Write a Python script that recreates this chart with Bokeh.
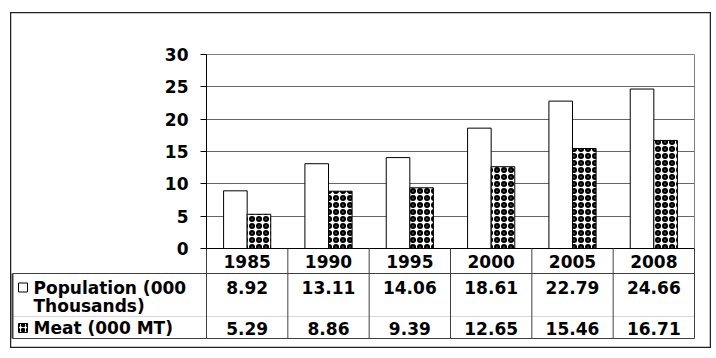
from bokeh.plotting import figure
from bokeh.models import Range1d, FixedTicker, ColumnDataSource
from bokeh.transform import dodge
from bokeh.embed import file_html
from bokeh.resources import INLINE
from bokeh.core.properties import value

# ---- data ----
years = ["1985", "1990", "1995", "2000", "2005", "2008"]
population = [8.92, 13.11, 14.06, 18.61, 22.79, 24.66]
meat = [5.29, 8.86, 9.39, 12.65, 15.46, 16.71]
y_ticks = [0, 5, 10, 15, 20, 25, 30]
pop_label_lines = ["Population (000", "Thousands)"]
meat_label = "Meat (000 MT)"

# ---- layout constants (page px) ----
FONT = "DejaVu Sans"
FS = "17px"
LEFT, TOP = 10, 12            # outer chart box
W, H = 701, 336
RIGHT, BOTTOM = LEFT + W, TOP + H
PL, PR, PT, PB = 206, 694, 54, 248   # plot area
N = len(years)
UNIT = (PR - PL) / N          # px per category

def px2x(px):
    return (px - PL) / UNIT

centers = [i + 0.5 for i in range(N)]
bounds = list(range(N + 1))
pos = {"position": "absolute", "left": f"{LEFT}px", "top": f"{TOP}px"}

# ---- chart ----
src = ColumnDataSource(dict(x=centers, pop=population, meat=meat))
p = figure(width=W, height=H, x_range=Range1d(0, N), y_range=Range1d(0, 30),
           output_backend="svg", toolbar_location=None, x_axis_location=None,
           min_border_left=PL - LEFT, min_border_right=RIGHT - PR,
           min_border_top=PT - TOP, min_border_bottom=BOTTOM - PB)
p.styles = dict(pos)
p.outline_line_color = "#808080"
p.xgrid.visible = False
p.ygrid.ticker = FixedTicker(ticks=y_ticks)
p.ygrid.grid_line_color = "#666666"

ax = p.yaxis[0]
ax.ticker = FixedTicker(ticks=y_ticks)
ax.major_label_text_font = FONT
ax.major_label_text_font_style = "bold"
ax.major_label_text_font_size = FS
ax.major_label_text_color = "black"
ax.major_tick_out = 6
ax.major_tick_in = 0
ax.minor_tick_out = 0
ax.minor_tick_in = 0
ax.major_label_standoff = 12
ax.axis_line_color = "black"
ax.major_tick_line_color = "black"

bw = 0.29
p.vbar(x=dodge("x", -bw / 2, range=p.x_range), top="pop", width=bw, source=src,
       fill_color="white", line_color="black", line_width=1)
p.vbar(x=dodge("x", bw / 2, range=p.x_range), top="meat", width=bw, source=src,
       fill_color="white", line_color="black", line_width=1,
       hatch_pattern="ring", hatch_color="black", hatch_scale=7, hatch_weight=2.5)

# ---- data table overlay (transparent, same box) ----
t = figure(width=W, height=H, x_range=Range1d(px2x(LEFT), px2x(RIGHT)),
           y_range=Range1d(BOTTOM, TOP),
           output_backend="svg", toolbar_location=None, x_axis_location=None,
           y_axis_location=None, min_border=0)
t.styles = dict(pos)
t.background_fill_color = None
t.border_fill_color = None
t.outline_line_color = "#222222"
t.outline_line_width = 1.5
t.xgrid.visible = False
t.ygrid.visible = False

HDR, ROW1, ROW2 = 273, 316, 338
tl = px2x(12)
line_col = "#404040"
t.segment(x0=[0], y0=[PB], x1=[N], y1=[PB], line_color="black", line_width=1)
t.segment(x0=[tl, tl], y0=[HDR, ROW2], x1=[N, N], y1=[HDR, ROW2], line_color=line_col, line_width=1)
t.segment(x0=[tl], y0=[ROW1], x1=[N], y1=[ROW1], line_color="#d8d8d8", line_width=1)
t.segment(x0=bounds, y0=[PB] * (N + 1), x1=bounds, y1=[ROW2] * (N + 1),
          line_color=line_col, line_width=1)
t.segment(x0=[tl], y0=[HDR], x1=[tl], y1=[ROW2], line_color=line_col, line_width=2)

txt = dict(text_font=value(FONT), text_font_style="bold", text_font_size=FS,
           text_color="black", text_baseline="middle")
t.text(x=centers, y=[260.5] * N, text=years, text_align="center", **txt)
t.text(x=centers, y=[287] * N, text=[f"{v:.2f}" for v in population], text_align="center", **txt)
t.text(x=centers, y=[327.5] * N, text=[f"{v:.2f}" for v in meat], text_align="center", **txt)
t.text(x=[px2x(33)] * 2, y=[287, 305], text=pop_label_lines, text_align="left", **txt)
t.text(x=[px2x(33)], y=[327.5], text=[meat_label], text_align="left", **txt)
# legend keys
t.rect(x=[px2x(22.5)], y=[287], width=9, height=9, width_units="screen", height_units="screen",
       fill_color="white", line_color="black", line_width=1)
t.rect(x=[px2x(22.5)], y=[327.5], width=9, height=9, width_units="screen", height_units="screen",
       fill_color="white", line_color="black", line_width=1,
       hatch_pattern="ring", hatch_color="black", hatch_scale=5, hatch_weight=2)

open("out.html", "w").write(file_html([p, t], INLINE))
